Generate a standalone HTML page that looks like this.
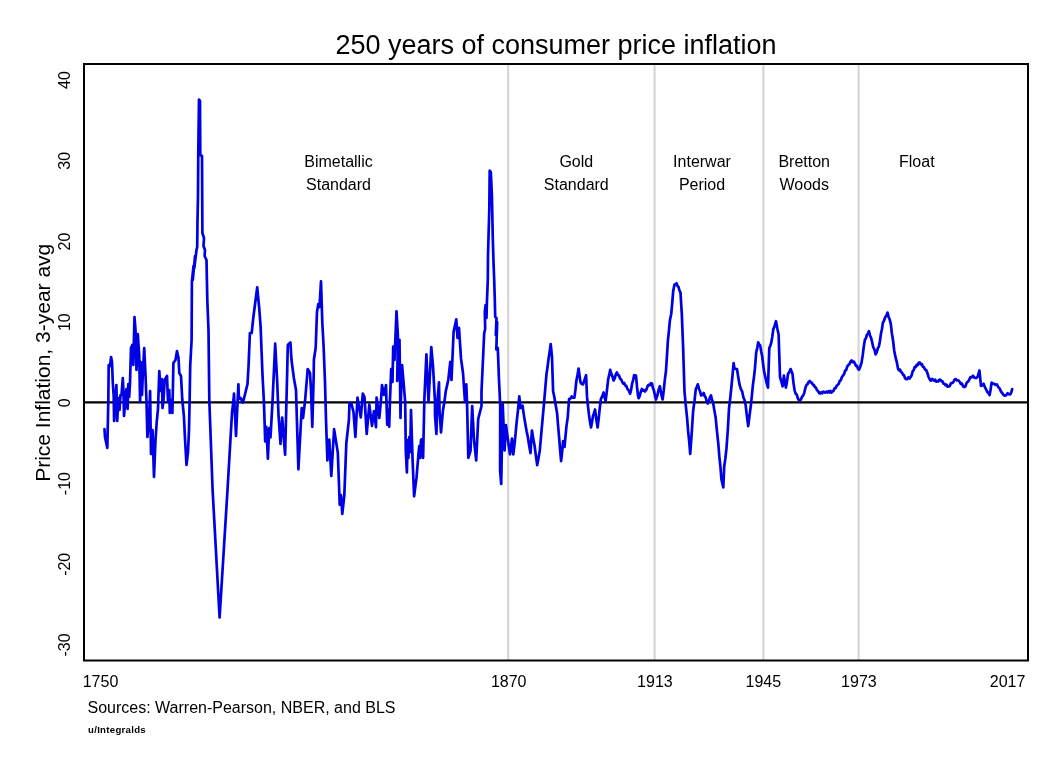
<!DOCTYPE html>
<html><head><meta charset="utf-8"><title>250 years of consumer price inflation</title>
<style>
html,body{margin:0;padding:0;background:#fff;width:1056px;height:768px;overflow:hidden}
svg{display:block}
text{font-family:"Liberation Sans",Arial,sans-serif;fill:#000}
</style></head><body>
<svg width="1056" height="768" viewBox="0 0 1056 768">
<rect width="1056" height="768" fill="#fff"/>
<g stroke="#d3d3d3" stroke-width="2"><line x1="508.2" y1="64" x2="508.2" y2="660.5"/><line x1="654.6" y1="64" x2="654.6" y2="660.5"/><line x1="763.4" y1="64" x2="763.4" y2="660.5"/><line x1="858.6" y1="64" x2="858.6" y2="660.5"/></g>
<line x1="84" y1="402.3" x2="1028" y2="402.3" stroke="#000" stroke-width="2.2"/>
<path d="M104.5,429.0 105.0,437.0 107.3,448.0 108.3,402.0 108.7,365.0 110.0,366.0 111.1,357.0 112.0,362.0 112.8,383.0 113.7,396.0 114.1,421.0 115.0,405.0 116.4,385.0 117.2,421.0 118.5,398.0 119.5,410.0 120.5,395.0 121.5,395.0 122.8,378.0 123.5,392.0 124.0,416.0 125.0,405.0 126.4,389.0 127.6,409.0 128.3,384.0 129.2,397.0 130.0,383.0 131.0,348.0 132.3,345.0 133.3,365.0 134.5,317.0 135.5,330.0 136.5,370.0 137.8,334.0 139.2,355.0 140.1,402.0 140.8,362.0 142.0,395.0 143.0,370.0 144.2,348.0 145.6,377.0 146.5,402.0 147.4,437.0 149.0,421.0 150.1,391.0 151.0,454.0 152.5,430.0 154.0,477.0 155.5,440.0 156.8,421.0 158.0,409.0 159.3,371.0 160.5,391.0 162.0,379.0 162.5,408.0 163.5,400.0 164.7,380.0 167.0,376.0 168.0,402.0 169.3,390.0 169.8,413.0 171.0,400.0 172.4,413.0 173.4,363.0 175.5,360.0 177.0,351.0 178.5,358.0 179.3,373.0 181.0,376.0 182.3,400.0 183.9,416.0 184.9,437.0 186.5,465.0 188.0,452.0 189.0,430.0 189.6,402.0 190.2,366.0 191.6,340.0 191.9,282.0 193.5,266.0 192.8,280.0 195.0,256.0 194.3,268.0 196.5,250.0 197.2,247.0 197.5,220.0 198.0,196.0 198.3,150.0 199.0,99.5 200.0,101.0 200.3,155.0 202.0,156.0 202.4,233.0 204.0,238.0 203.5,246.0 205.0,250.0 204.6,256.0 206.5,260.0 207.3,300.0 208.5,330.0 209.3,400.0 212.6,490.0 219.6,617.5 227.5,490.0 232.0,413.0 233.5,400.0 234.0,393.6 236.0,436.0 238.4,384.3 238.9,399.0 240.5,398.0 243.0,402.5 247.5,384.0 248.6,365.0 249.9,333.0 251.7,333.0 253.2,318.5 257.2,287.3 259.2,308.0 260.6,326.5 262.5,375.0 263.9,401.6 265.2,441.4 266.3,426.8 267.9,458.7 269.2,428.0 270.5,437.4 272.5,401.6 275.2,343.7 277.2,382.0 278.5,414.8 280.5,444.0 282.2,417.5 285.1,454.7 287.1,375.0 287.8,345.0 290.4,342.4 291.5,360.0 293.8,377.7 296.0,390.0 298.4,469.3 301.7,408.2 303.0,418.0 305.0,401.6 307.7,369.0 310.0,373.0 311.0,390.0 312.3,426.8 313.7,375.0 313.9,359.7 315.7,347.7 317.0,311.9 318.3,304.0 319.5,307.0 321.0,281.3 322.3,322.5 323.6,346.4 325.0,382.0 326.0,420.0 327.4,460.4 329.3,439.5 331.3,476.0 334.1,429.1 337.8,452.6 339.1,487.8 339.7,504.7 341.0,495.0 342.3,513.8 344.3,495.6 346.3,443.5 348.9,420.0 349.5,403.0 351.5,404.0 353.5,412.0 355.4,437.0 357.5,397.6 360.8,417.5 362.8,393.6 364.5,397.0 366.7,433.9 369.3,404.6 372.0,425.9 374.0,411.0 376.0,427.2 376.6,397.6 379.3,418.0 381.0,400.0 382.0,385.0 384.0,395.0 386.0,385.0 387.2,424.6 388.2,410.0 389.2,426.6 389.9,402.0 391.2,369.0 392.5,382.0 393.2,346.5 394.5,360.0 396.5,311.3 397.9,335.9 397.2,381.0 399.5,339.8 400.5,418.0 400.8,402.0 402.1,365.0 405.2,402.0 405.8,451.0 406.9,472.4 407.6,440.0 408.4,458.0 409.3,437.0 410.2,452.0 411.0,410.0 412.5,457.8 414.1,496.3 416.5,477.7 418.5,453.8 419.3,446.0 420.2,458.0 421.0,440.0 421.8,439.2 423.1,457.8 424.4,398.0 426.4,354.4 428.5,402.0 431.3,347.1 433.0,366.0 435.0,402.0 435.0,415.3 436.4,433.9 437.5,400.0 439.0,382.3 439.5,410.0 441.0,432.5 443.0,410.0 444.4,402.0 445.7,391.6 448.3,379.7 450.3,361.8 451.5,380.0 453.6,331.9 456.3,319.3 457.5,338.0 459.0,327.9 461.0,358.4 463.0,373.0 465.0,402.0 466.3,384.3 467.0,402.0 468.3,457.8 470.5,451.0 472.2,406.0 474.0,440.0 476.2,460.4 478.2,419.2 481.5,406.0 481.5,391.6 482.5,370.0 484.2,333.0 485.2,329.0 484.8,312.0 485.6,305.0 486.5,318.0 487.0,300.0 487.8,280.0 488.0,255.8 489.3,208.9 489.7,170.7 490.8,172.0 491.9,195.2 492.8,238.2 493.5,262.0 494.2,280.0 494.8,300.0 495.2,317.0 496.5,318.0 495.8,335.0 497.2,322.0 496.3,349.5 497.8,348.0 499.0,380.0 500.2,405.0 500.1,471.0 501.2,484.0 502.7,404.0 504.6,450.5 506.0,425.2 507.0,433.2 508.0,440.0 509.0,447.7 510.0,454.4 511.0,447.2 512.0,438.5 513.3,454.4 515.0,440.0 516.6,422.6 518.0,410.0 519.3,396.4 520.5,408.0 521.5,407.5 522.6,405.7 523.2,410.6 524.4,418.4 525.5,425.0 526.7,431.6 527.9,437.2 529.2,445.8 530.5,453.1 531.9,430.5 533.2,438.3 534.5,445.2 535.9,455.8 537.2,465.1 538.5,458.3 539.8,450.5 541.1,435.7 542.5,419.9 543.8,405.7 545.1,390.4 546.5,373.8 547.5,367.3 548.5,359.2 549.6,352.1 550.7,344.0 552.0,357.0 553.1,391.1 554.5,398.0 555.8,405.7 557.1,413.3 558.1,425.8 559.1,437.2 560.1,449.9 561.1,461.1 562.1,452.0 563.1,441.2 564.5,447.0 566.4,426.6 567.7,417.6 569.1,399.0 570.4,398.4 571.7,396.4 573.0,397.7 574.4,397.7 575.4,390.0 576.4,380.5 577.5,375.0 578.6,368.5 580.4,382.0 581.7,384.0 583.0,384.4 584.5,380.0 586.1,375.2 587.0,396.4 588.0,406.3 589.0,415.0 590.0,421.8 591.0,427.5 592.0,422.3 593.0,416.0 594.0,413.3 595.0,409.5 596.3,419.3 597.6,427.5 598.7,418.5 599.8,407.8 600.9,399.0 602.2,396.4 603.6,392.4 604.6,397.3 605.6,401.0 606.9,390.7 608.2,379.1 609.2,374.9 610.2,369.8 611.3,373.8 612.4,376.4 613.5,380.5 614.6,378.6 615.8,374.5 616.9,372.5 618.0,375.0 619.0,375.5 620.1,378.7 621.1,379.4 622.2,381.8 623.2,383.6 624.2,383.0 625.2,385.4 626.2,385.8 627.5,389.1 628.8,390.4 630.1,393.7 631.1,389.9 632.1,383.7 633.1,380.4 634.1,375.2 636.0,375.6 637.0,386.9 638.1,396.4 638.7,398.2 639.8,395.6 640.9,391.4 642.0,388.9 643.0,390.6 644.0,390.1 645.0,391.5 646.2,390.0 647.4,386.6 648.6,384.9 649.7,385.2 650.9,383.2 652.0,383.6 653.0,388.3 654.0,390.7 655.0,396.1 656.0,399.5 657.3,395.8 658.6,389.9 659.9,386.2 661.2,393.6 662.6,399.5 663.7,390.9 664.8,380.1 665.9,371.6 666.9,356.9 667.9,340.4 668.9,331.1 669.9,320.5 671.2,314.0 672.2,303.3 673.2,291.2 674.5,284.6 675.5,284.4 676.5,283.3 677.5,285.9 678.5,287.0 679.5,290.5 680.5,292.6 681.8,313.8 683.1,347.0 684.5,391.6 685.8,405.7 687.1,418.1 688.1,430.9 689.2,441.5 690.2,454.0 691.7,433.4 693.1,411.5 694.5,401.0 695.8,388.9 696.8,387.1 697.8,384.3 698.9,388.7 700.0,391.2 701.1,395.5 702.4,394.8 703.7,393.0 704.7,396.1 705.7,397.5 706.7,401.4 707.7,403.5 708.8,401.4 709.9,397.5 711.0,395.5 712.0,399.7 713.0,402.2 714.4,410.6 715.7,418.1 717.0,431.6 718.3,443.7 719.3,456.2 720.4,466.5 721.4,479.2 723.3,487.4 724.2,466.5 725.4,458.2 726.5,448.2 727.8,430.0 729.0,408.8 730.3,397.7 731.6,384.9 732.6,374.5 733.6,363.0 734.3,367.7 735.6,369.0 737.0,369.0 738.3,377.6 739.6,384.9 740.9,389.1 742.2,391.6 743.3,396.9 744.5,399.9 745.6,404.8 746.9,416.0 748.2,426.1 749.5,416.0 750.9,404.8 751.9,395.4 752.9,384.9 753.9,377.6 754.9,369.0 756.2,352.3 757.2,348.1 758.2,342.4 759.2,344.5 760.2,345.5 761.2,351.4 762.2,356.3 763.2,364.8 764.2,372.0 766.0,380.0 767.0,384.4 768.0,387.6 769.3,347.8 770.3,345.9 771.3,342.5 772.3,336.7 773.3,329.2 774.6,326.0 776.0,321.2 777.3,328.5 778.6,334.5 780.0,377.0 781.5,382.0 782.6,386.3 783.9,375.7 784.9,382.4 785.9,387.6 787.0,381.6 788.0,374.0 789.3,372.0 790.6,369.1 792.5,374.0 793.5,383.0 794.6,390.3 795.7,393.8 796.8,394.8 797.9,398.3 798.9,400.1 799.9,400.3 801.0,399.4 802.1,396.5 803.2,395.6 804.3,392.6 805.4,387.8 806.5,385.0 807.6,384.1 808.7,381.9 809.8,381.0 810.8,382.5 811.8,382.5 812.8,384.6 813.8,385.0 814.9,387.1 815.9,387.7 817.0,390.3 818.0,390.9 819.1,393.0 820.2,393.5 821.2,392.3 822.3,393.4 823.3,391.7 824.4,392.3 825.4,392.7 826.4,391.6 827.4,392.6 828.4,391.3 829.4,392.4 830.4,390.9 831.4,392.6 832.4,391.6 833.5,390.9 834.5,388.3 835.6,388.1 836.6,385.8 837.7,385.0 838.8,383.7 839.8,380.7 840.9,380.2 841.9,377.0 843.0,375.7 844.1,374.0 845.1,370.6 846.2,370.0 847.2,366.7 848.3,365.1 849.4,364.2 850.6,361.5 851.7,360.4 852.8,362.2 853.9,361.7 855.0,363.7 856.0,366.0 857.0,365.9 858.0,368.8 859.0,369.7 860.3,366.7 861.6,362.4 862.7,355.4 863.8,346.5 864.9,339.8 865.9,338.3 866.9,334.7 867.9,333.9 868.9,331.2 870.0,335.5 871.1,337.9 872.2,342.5 873.3,347.4 874.5,349.6 875.6,354.4 876.7,352.6 877.8,348.3 878.9,346.5 879.9,341.3 880.9,334.0 881.9,329.3 882.9,322.6 884.0,320.7 885.2,317.1 886.4,315.6 887.5,312.6 888.6,316.9 889.7,319.6 890.8,323.9 891.9,333.5 893.1,340.8 894.2,350.5 895.5,357.2 896.7,361.6 898.0,368.5 899.0,370.4 900.0,369.6 901.0,372.1 902.0,372.5 903.0,374.7 904.0,375.2 905.0,378.0 906.0,379.1 907.1,379.1 908.3,377.4 909.5,378.5 910.6,377.1 911.6,375.5 912.6,371.5 913.6,370.4 914.6,367.2 915.7,367.1 916.7,364.8 917.8,365.1 918.8,362.6 919.9,362.5 920.9,364.5 921.9,364.1 922.9,366.7 923.9,367.2 925.0,369.5 926.1,369.9 927.2,372.5 928.5,376.7 929.9,379.8 931.0,380.6 932.1,378.9 933.2,379.8 934.2,380.8 935.2,379.8 936.2,381.7 937.2,381.1 938.3,381.4 939.4,379.7 940.5,379.8 941.5,381.3 942.5,381.3 943.5,383.7 944.5,383.8 945.5,385.3 946.5,384.6 947.5,386.6 948.5,386.4 949.7,386.2 950.8,383.4 952.0,383.0 953.3,382.3 954.5,379.7 955.8,379.1 957.1,380.5 958.4,380.4 959.7,381.8 960.9,384.0 962.0,383.7 963.2,386.5 964.4,387.1 965.5,386.2 966.6,382.9 967.7,381.8 969.0,380.3 970.4,377.1 971.7,377.3 973.0,375.8 974.2,377.4 975.5,378.0 976.6,377.8 977.7,376.5 979.4,370.5 981.0,385.8 982.3,385.4 983.6,383.8 985.0,387.4 986.3,389.8 987.4,392.3 988.5,392.8 989.6,395.1 990.6,389.4 991.6,382.5 993.0,383.7 994.3,383.8 995.6,385.0 996.9,384.4 998.2,387.0 999.6,388.4 1000.9,391.4 1002.2,393.1 1003.5,395.1 1004.9,395.7 1006.2,395.3 1007.6,393.1 1008.9,394.4 1010.2,394.4 1011.2,392.6 1012.2,389.1" fill="none" stroke="#0000e4" stroke-width="2.7" stroke-linejoin="round" stroke-linecap="round"/>
<rect x="84" y="64" width="944" height="596.5" fill="none" stroke="#000" stroke-width="2"/>
<text x="556" y="54" text-anchor="middle" font-size="27">250 years of consumer price inflation</text>
<text transform="translate(49.5,362.8) rotate(-90)" text-anchor="middle" font-size="21">Price Inflation, 3-year avg</text>
<g font-size="16"><text transform="translate(70,80.10) rotate(-90)" text-anchor="middle">40</text><text transform="translate(70,160.80) rotate(-90)" text-anchor="middle">30</text><text transform="translate(70,241.50) rotate(-90)" text-anchor="middle">20</text><text transform="translate(70,322.20) rotate(-90)" text-anchor="middle">10</text><text transform="translate(70,402.90) rotate(-90)" text-anchor="middle">0</text><text transform="translate(70,483.60) rotate(-90)" text-anchor="middle">-10</text><text transform="translate(70,564.30) rotate(-90)" text-anchor="middle">-20</text><text transform="translate(70,645.00) rotate(-90)" text-anchor="middle">-30</text><text x="100.5" y="686.7" text-anchor="middle">1750</text><text x="508.7" y="686.7" text-anchor="middle">1870</text><text x="654.9" y="686.7" text-anchor="middle">1913</text><text x="763.3" y="686.7" text-anchor="middle">1945</text><text x="858.9" y="686.7" text-anchor="middle">1973</text><text x="1007.6" y="686.7" text-anchor="middle">2017</text><text x="338.5" y="166.8" text-anchor="middle">Bimetallic</text><text x="338.5" y="190.2" text-anchor="middle">Standard</text><text x="576.3" y="166.8" text-anchor="middle">Gold</text><text x="576.3" y="190.2" text-anchor="middle">Standard</text><text x="702" y="166.8" text-anchor="middle">Interwar</text><text x="702" y="190.2" text-anchor="middle">Period</text><text x="804.2" y="166.8" text-anchor="middle">Bretton</text><text x="804.2" y="190.2" text-anchor="middle">Woods</text><text x="916.8" y="166.8" text-anchor="middle">Float</text></g>
<text x="87.5" y="712.7" font-size="16">Sources: Warren-Pearson, NBER, and BLS</text>
<text x="88" y="733.1" font-size="9.6" font-weight="bold" letter-spacing="0.3">u/Integralds</text>
</svg>
</body></html>
